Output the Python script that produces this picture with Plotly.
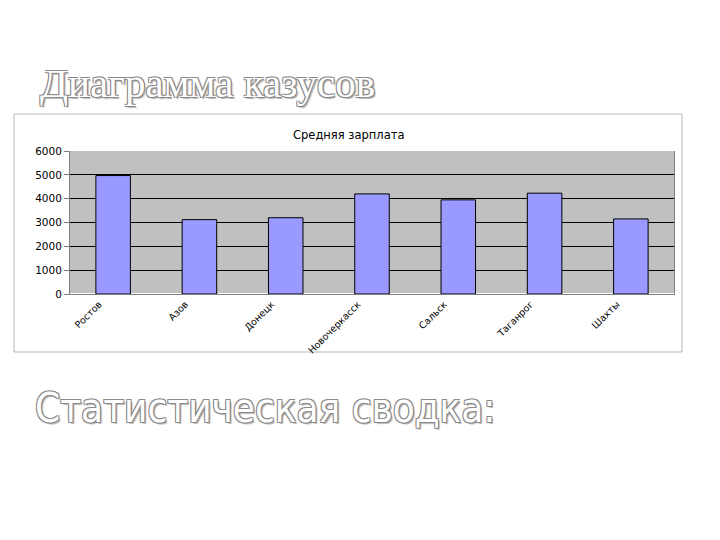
import plotly.graph_objects as go

cities = ["Ростов", "Азов", "Донецк", "Новочеркасск", "Сальск", "Таганрог", "Шахты"]
salary = [4970, 3120, 3200, 4200, 3950, 4230, 3150]
y_ticks = [0, 1000, 2000, 3000, 4000, 5000, 6000]

W, H = 720, 540
OFF = 8  # page body margin
def fx(px):
    return (px - OFF) / W
def fy(py):
    return 1 - (py - OFF) / H

outline = "1px 1px 0 #8a8a8a, -1px -1px 0 #8a8a8a, 1px -1px 0 #8a8a8a, -1px 1px 0 #8a8a8a, 2px 2px 1px #b8b8b8"

fig = go.Figure()
fig.add_trace(go.Bar(
    x=cities, y=salary,
    marker=dict(color="#9999ff", line=dict(color="#000000", width=1)),
    showlegend=False,
))

fig.update_layout(
    width=W, height=H,
    margin=dict(l=0, r=0, t=0, b=0),
    paper_bgcolor="white",
    plot_bgcolor="#c0c0c0",
    bargap=0.6,
    xaxis=dict(
        domain=[fx(70), fx(674)],
        tickangle=-45,
        ticklabelshift=-14,
        tickfont=dict(family="DejaVu Sans", size=9.5, color="black"),
        showline=True, linecolor="#808080", linewidth=1,
        ticks="", showgrid=False,
        automargin=False, fixedrange=True,
    ),
    yaxis=dict(
        domain=[fy(294), fy(151)],
        range=[0, 6000],
        tickvals=y_ticks,
        tickfont=dict(family="DejaVu Sans", size=10.5, color="black"),
        showgrid=True, gridcolor="#000000", gridwidth=1,
        showline=True, linecolor="#808080", linewidth=1, mirror=True,
        ticks="outside", ticklen=5, tickcolor="#808080",
        automargin=False, fixedrange=True,
    ),
    shapes=[
        dict(type="rect", xref="paper", yref="paper",
             x0=fx(14), x1=fx(682), y0=fy(352), y1=fy(114),
             line=dict(color="#b8b8b8", width=1), fillcolor="rgba(0,0,0,0)", layer="below"),
    ],
    annotations=[
        dict(text="Средняя зарплата", xref="paper", yref="paper",
             x=fx(349), y=fy(126), showarrow=False,
             font=dict(family="DejaVu Sans", size=11.5, color="black")),
        dict(text="Диаграмма казусов", xref="paper", yref="paper",
             x=fx(38), y=fy(83), xanchor="left", yanchor="middle", showarrow=False,
             font=dict(family="Liberation Serif", size=41, color="white", shadow=outline)),
        dict(text="Статистическая сводка:", xref="paper", yref="paper",
             x=fx(33), y=fy(408), xanchor="left", yanchor="middle", showarrow=False,
             font=dict(family="DejaVu Sans Condensed", size=40, color="white", shadow=outline)),
    ],
)

fig.write_html("out.html")
